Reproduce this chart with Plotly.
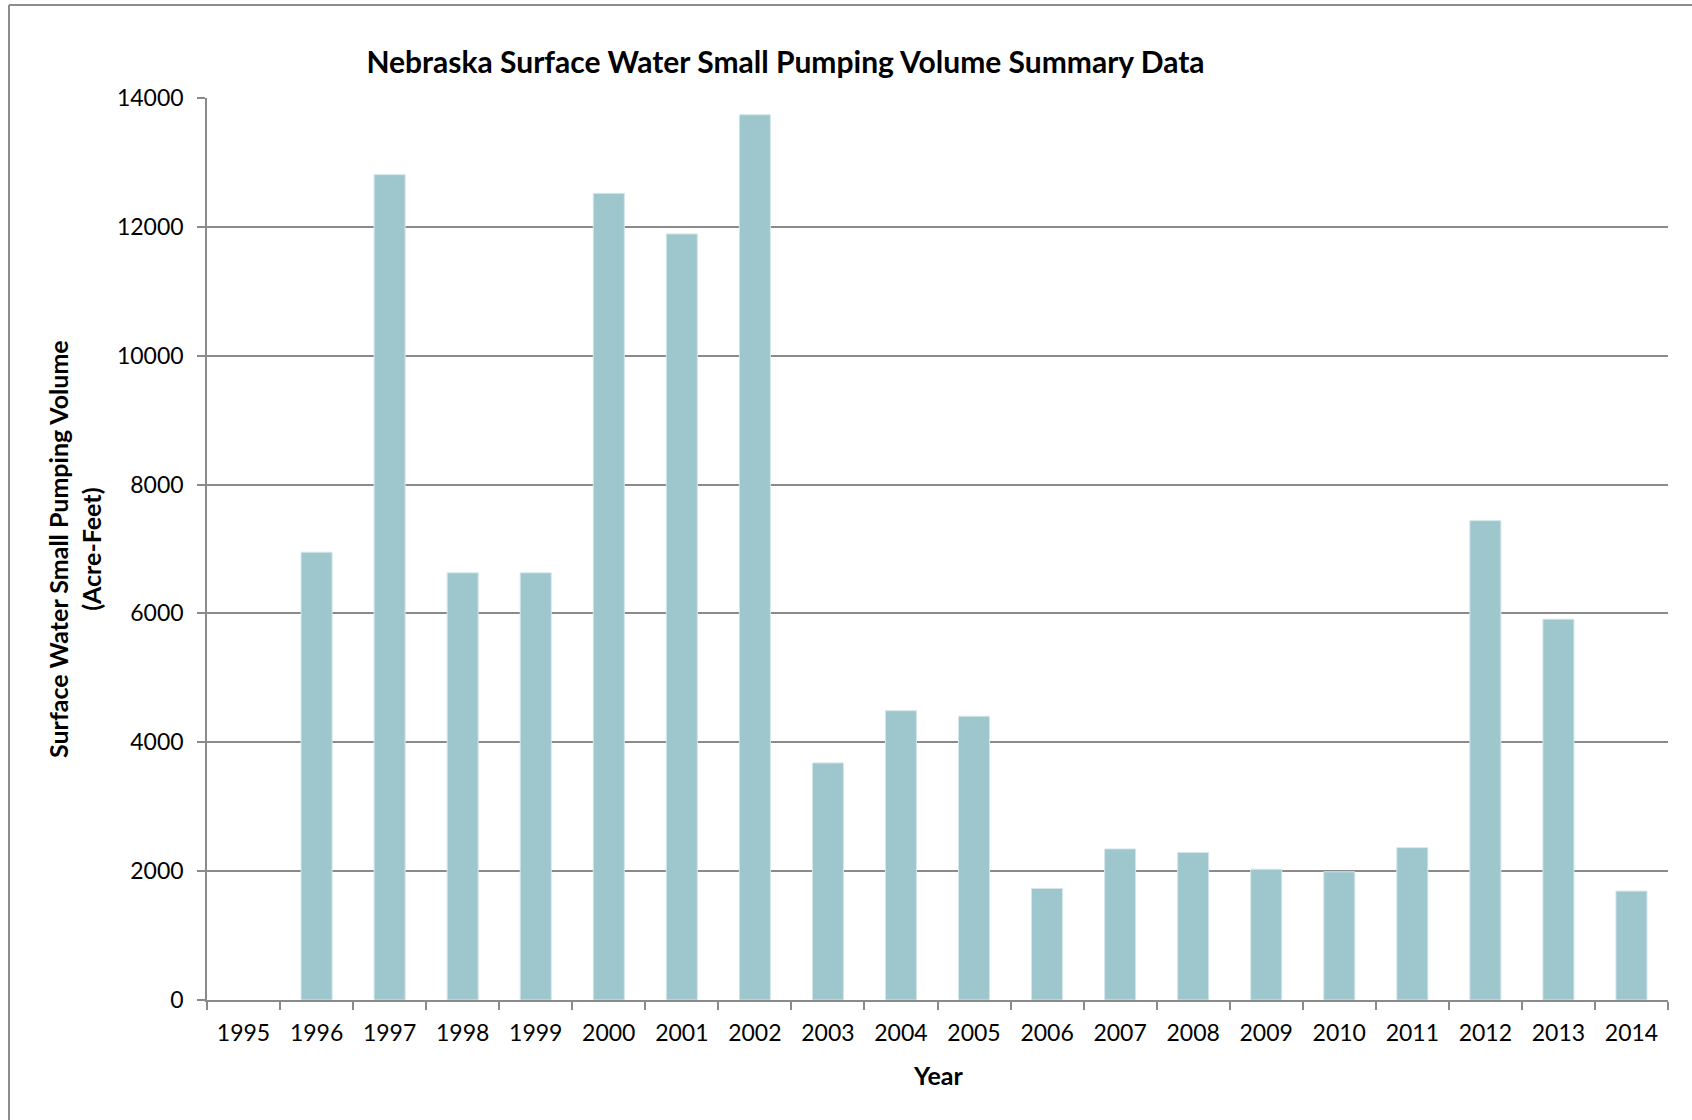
import plotly.graph_objects as go

years = [str(y) for y in range(1995, 2015)]
volumes = [None, 6950, 12810, 6630, 6630, 12520, 11890, 13740, 3680, 4490,
           4405, 1730, 2345, 2290, 2030, 1990, 2365, 7440, 5910, 1690]
y_ticks = [0, 2000, 4000, 6000, 8000, 10000, 12000, 14000]
y_tick_labels = [str(v) for v in y_ticks]

title_text = "Nebraska Surface Water Small Pumping Volume Summary Data"
y_title = "Surface Water Small Pumping Volume<br>(Acre-Feet)"
x_title = "Year"

W, H = 1692, 1120
L, R, T, B = 207, 24, 98, 120
pw, ph = W - L - R, H - T - B

FONT = "Lato"
GRID = "#8a8a8a"

fig = go.Figure(go.Bar(
    x=years, y=volumes,
    marker=dict(color="#9DC6CD", line=dict(color="#d4e7ea", width=1)),
))

fig.update_layout(
    width=W, height=H,
    margin=dict(l=L, r=R, t=T, b=B),
    paper_bgcolor="white", plot_bgcolor="white",
    bargap=0.575,
    showlegend=False,
    font=dict(family=FONT, color="black", size=23),
    title=dict(text="<b>" + title_text + "</b>", xref="container", yref="container",
               x=785.5 / W, y=1 - 62.6 / H, xanchor="center", yanchor="middle",
               font=dict(family=FONT, size=30, color="black")),
    xaxis=dict(type="category", showline=True, linecolor=GRID, linewidth=1.5,
               ticks="outside", tickson="boundaries", ticklen=8, tickcolor=GRID,
               tickwidth=1.5, showgrid=False, ticklabelstandoff=12,
               tickfont=dict(size=23)),
    yaxis=dict(range=[0, 14000], tickvals=y_ticks, ticktext=y_tick_labels,
               showline=True, linecolor=GRID,
               linewidth=1.5, ticks="outside", ticklen=8, tickcolor=GRID, tickwidth=1.5,
               showgrid=True, gridcolor=GRID, gridwidth=1.5, zeroline=False,
               ticklabelstandoff=9, tickfont=dict(size=23)),
    annotations=[
        dict(text="<b>" + y_title + "</b>", xref="paper", yref="paper",
             x=(74 - L) / pw, y=0.5, xanchor="center", yanchor="middle",
             textangle=-90, showarrow=False, font=dict(size=25)),
        dict(text="<b>" + x_title + "</b>", xref="paper", yref="paper",
             x=0.5, y=(T + ph - 1075) / ph, xanchor="center", yanchor="middle",
             showarrow=False, font=dict(size=25)),
    ],
    shapes=[
        dict(type="line", xref="paper", yref="paper",
             x0=(9 - L) / pw, x1=(9 - L) / pw, y0=(T + ph - 5) / ph, y1=(T + ph - H - 10) / ph,
             line=dict(color="#8c8c8c", width=2)),
        dict(type="line", xref="paper", yref="paper",
             x0=(9 - L) / pw, x1=(W + 10 - L) / pw, y0=(T + ph - 5) / ph, y1=(T + ph - 5) / ph,
             line=dict(color="#8c8c8c", width=2)),
    ],
)

fig.write_html("out.html", config={"displayModeBar": False},
               post_script="document.body.style.margin='0';")
